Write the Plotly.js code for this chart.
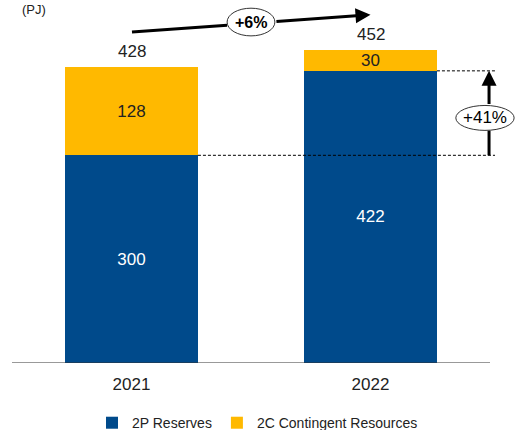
<!DOCTYPE html>
<html>
<head>
<meta charset="utf-8">
<script src="https://cdn.plot.ly/plotly-3.0.1.min.js"></script>
<style>html,body{margin:0;padding:0;background:#fff;}#chart{width:515px;height:430px;}</style>
</head>
<body>
<div id="chart"></div>
<script>
// ---- data ----
const years = ['2021', '2022'];
const reserves2P = [300, 422];
const contingent2C = [128, 30];
const unitLabel = '(PJ)';
const growthTotal = '+6%';
const growth2P = '+41%';

const totals = years.map((_, i) => reserves2P[i] + contingent2C[i]);

const FONT = 'Liberation Sans, Arial, sans-serif';
const BLUE = '#004A8B';
const YELLOW = '#FFB900';
const TXT = '#222222';
const BW = 0.556;

const traces = [
  {
    type: 'bar', name: '2P Reserves', x: [0, 1], y: reserves2P,
    marker: {color: BLUE}, width: BW,
    text: reserves2P.map(String), textposition: 'inside', insidetextanchor: 'middle', textangle: 0,
    textfont: {color: '#ffffff', size: 17, family: FONT}, constraintext: 'none',
    hoverinfo: 'none'
  },
  {
    type: 'bar', name: '2C Contingent Resources', x: [0, 1], y: contingent2C,
    marker: {color: YELLOW}, width: BW,
    text: contingent2C.map(String), textposition: 'inside', insidetextanchor: 'middle', textangle: 0,
    textfont: {color: TXT, size: 17, family: FONT}, constraintext: 'none',
    hoverinfo: 'none'
  }
];

// +6% arrow geometry (from data)
const t0 = {x: 0, y: totals[0] + 50};
const t1 = {x: 1, y: totals[1] + 51};
const mid = {x: (t0.x + t1.x) / 2, y: (t0.y + t1.y) / 2};
const ex = 0.1, ey = 20;
const lerp = (xx) => t0.y + (t1.y - t0.y) * (xx - t0.x) / (t1.x - t0.x);

// +41% arrow geometry
const ax41 = 1.496;
const e41 = {x: 1.479, y: (reserves2P[0] + reserves2P[1]) / 2 - 7};
const e41w = 0.122, e41h = 18;

const shapes = [
  // baseline
  {type: 'line', xref: 'x', yref: 'y', x0: -0.5, x1: 1.5, y0: 0, y1: 0, line: {color: '#333333', width: 1}},
  // dashed reference lines
  {type: 'line', xref: 'x', yref: 'y', x0: BW / 2, x1: 1.521, y0: reserves2P[0], y1: reserves2P[0], line: {color: '#000', width: 1, dash: '3px,2px'}},
  {type: 'line', xref: 'x', yref: 'y', x0: 1 + BW / 2, x1: 1.521, y0: reserves2P[1], y1: reserves2P[1], line: {color: '#000', width: 1, dash: '3px,2px'}},
  // +6% arrow tail segment
  {type: 'line', xref: 'x', yref: 'y', x0: t0.x + 0.002, y0: t0.y, x1: mid.x - ex, y1: lerp(mid.x - ex), line: {color: '#000', width: 3}},
  // +6% ellipse
  {type: 'circle', xref: 'x', yref: 'y', x0: mid.x - ex, x1: mid.x + ex, y0: mid.y + 2 - ey, y1: mid.y + 2 + ey, fillcolor: '#fff', line: {color: '#333', width: 1}},
  // +41% tail segment
  {type: 'line', xref: 'x', yref: 'y', x0: ax41, x1: ax41, y0: reserves2P[0], y1: e41.y - e41h, line: {color: '#000', width: 3}},
  // +41% ellipse
  {type: 'circle', xref: 'x', yref: 'y', x0: e41.x - e41w, x1: e41.x + e41w, y0: e41.y - e41h, y1: e41.y + e41h, fillcolor: '#fff', line: {color: '#333', width: 1}}
];

const annotations = [
  // totals
  ...totals.map((t, i) => ({
    x: i, y: t, xref: 'x', yref: 'y', text: String(t), showarrow: false,
    yanchor: 'bottom', yshift: 4, font: {size: 17, color: TXT, family: FONT}
  })),
  // +6% arrow head segment
  {x: t1.x, y: t1.y, ax: mid.x + ex, ay: lerp(mid.x + ex), axref: 'x', ayref: 'y', xref: 'x', yref: 'y',
   text: '', showarrow: true, arrowhead: 2, arrowsize: 1, arrowwidth: 3, arrowcolor: '#000', standoff: 0},
  {x: mid.x, y: mid.y + 2, xref: 'x', yref: 'y', text: '<b>' + growthTotal + '</b>', showarrow: false,
   font: {size: 16, color: '#000', family: FONT}},
  // +41% arrow head segment
  {x: ax41, y: reserves2P[1], ax: ax41, ay: e41.y + e41h, axref: 'x', ayref: 'y', xref: 'x', yref: 'y',
   text: '', showarrow: true, arrowhead: 2, arrowsize: 1, arrowwidth: 3, arrowcolor: '#000', standoff: 0},
  {x: e41.x, y: e41.y, xref: 'x', yref: 'y', text: growth2P, showarrow: false,
   font: {size: 17, color: '#000', family: FONT}},
  // unit label (at top edge)
  {x: 0, y: 1, xref: 'paper', yref: 'paper', text: unitLabel, showarrow: false,
   xanchor: 'left', yanchor: 'top', xshift: 8, yshift: 3, font: {size: 13, color: TXT, family: FONT}}
];

const layout = {
  width: 515, height: 430,
  margin: {l: 12, r: 0, t: 3, b: 67, pad: 0, autoexpand: false},
  paper_bgcolor: '#fff', plot_bgcolor: '#fff',
  barmode: 'stack',
  font: {family: FONT, color: TXT},
  showlegend: true,
  legend: {orientation: 'h', x: 245.5 / 503, xanchor: 'center', y: -0.167, yanchor: 'middle',
           font: {size: 14, color: TXT, family: FONT}, traceorder: 'normal'},
  xaxis: {
    range: [-0.5, -0.5 + 503 / 239], tickmode: 'array', tickvals: [0, 1], ticktext: years,
    showline: false, showgrid: false, zeroline: false, ticks: 'outside', ticklen: 6, tickcolor: 'rgba(0,0,0,0)',
    tickfont: {size: 17, color: TXT, family: FONT}, fixedrange: true, automargin: false
  },
  yaxis: {range: [0, 520], visible: false, showgrid: false, zeroline: false, fixedrange: true, automargin: false},
  shapes: shapes,
  annotations: annotations
};

Plotly.newPlot('chart', traces, layout, {displayModeBar: false, staticPlot: true});
</script>
</body>
</html>
